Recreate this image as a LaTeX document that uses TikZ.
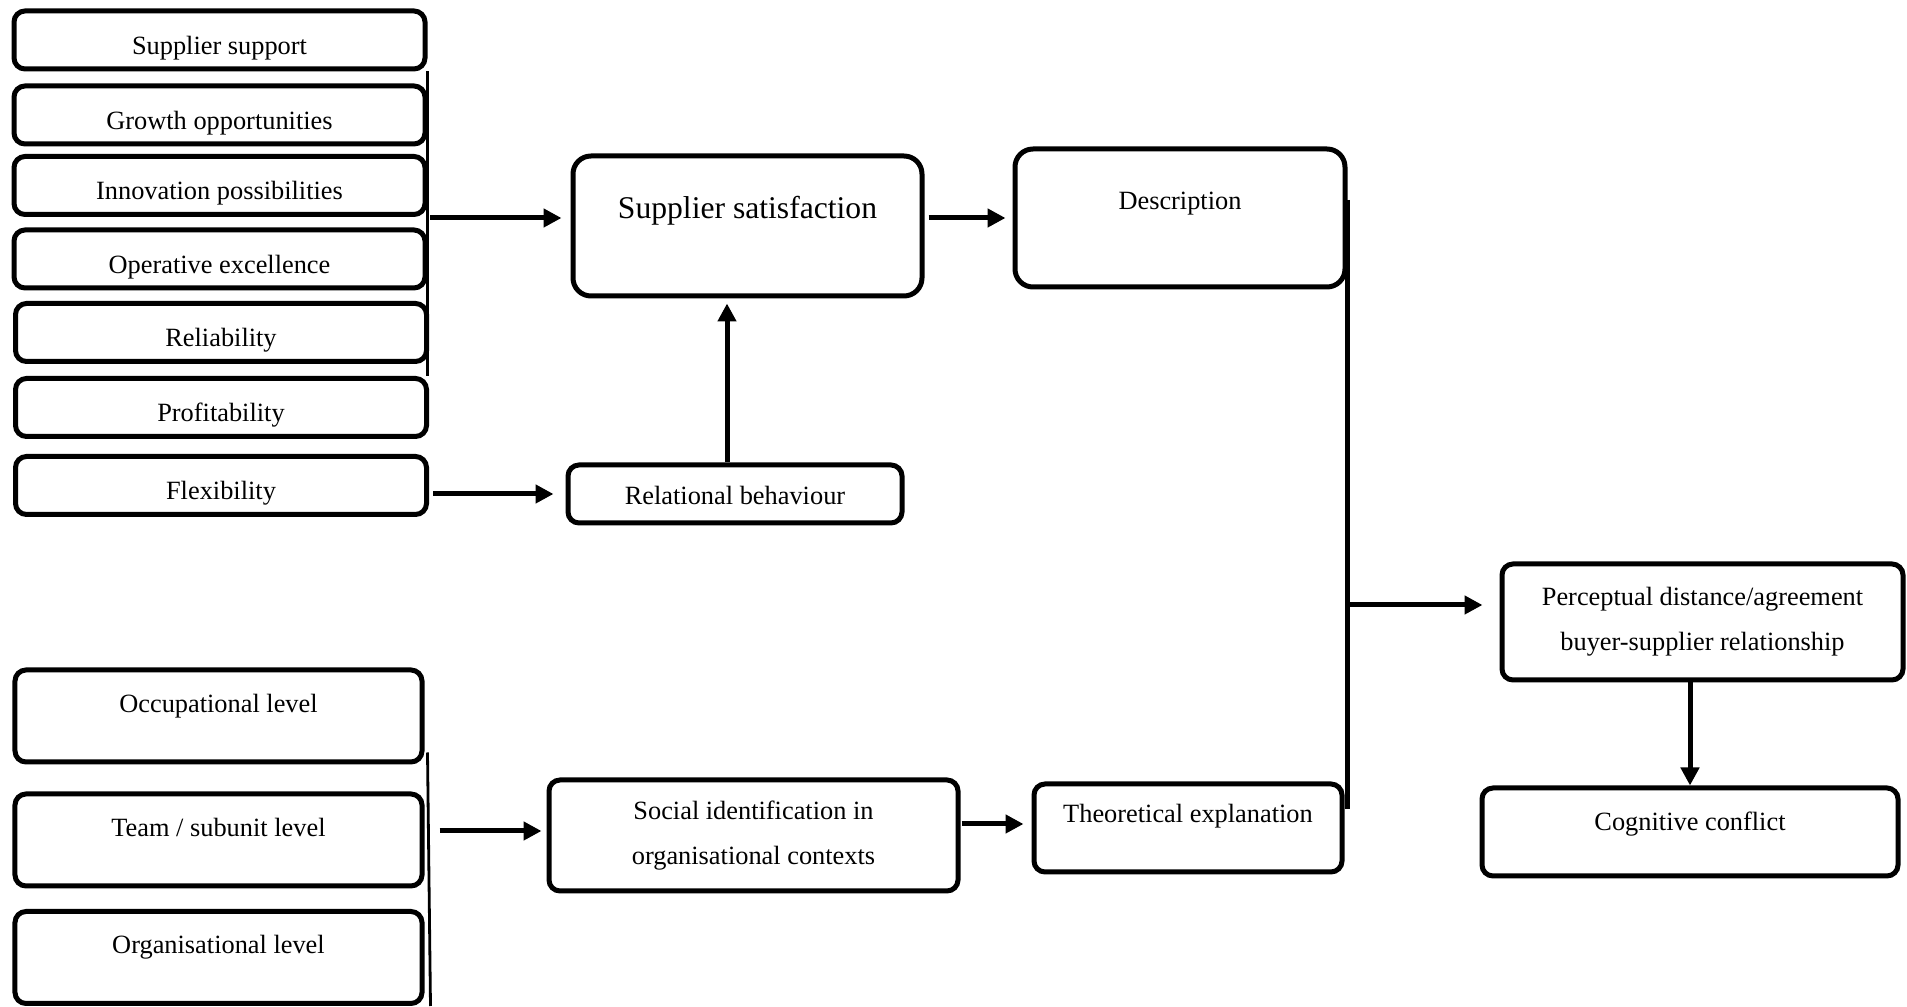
\documentclass[tikz,border=0pt]{standalone}
\usepackage{fontspec}
\setmainfont{Liberation Serif}
\usetikzlibrary{arrows.meta}

\begin{document}
\begin{tikzpicture}[every node/.style={font=\fontsize{7.5}{12.8}\selectfont,align=center,inner sep=.7mm},
    box/.style={draw,line width=.5mm,rounded corners=1.1mm},
    factor/.style={box,minimum width=4.11cm,minimum height=.58cm,text height=3.5mm,text depth=.6mm},
    tier/.style={box,minimum width=4.07cm,minimum height=.92cm,text height=2.4mm,text depth=3.1mm},
    arr/.style={line width=.5mm,-{Triangle[length=1.8mm,width=1.8mm]}},
    link/.style={line width=.5mm},
    bracket/.style={line width=.28mm}]
          \useasboundingbox (0,0) rectangle (19.07,10.07);
          % satisfaction factors
          \node [factor] (sup) at (2.195,9.67) {Supplier support};
          \node [factor] (gro) at (2.195,8.92) {Growth opportunities};
          \node [factor] (inn) at (2.195,8.215) {Innovation possibilities};
          \node [factor] (ope) at (2.195,7.48) {Operative excellence};
          \node [factor] (rlb) at (2.21,6.745) {Reliability};
          \node [factor] (pro) at (2.21,5.995) {Profitability};
          \node [factor] (fle) at (2.21,5.215) {Flexibility};
          \node [box,minimum width=3.49cm,minimum height=1.40cm,rounded corners=1.8mm,font=\fontsize{9}{11}\selectfont,text height=2.9mm,text depth=4.3mm] (supsat) at (7.475,7.81) {Supplier satisfaction};
          \node [box,minimum width=3.34cm,minimum height=.58cm,text height=3mm,text depth=.9mm] (relbeh) at (7.35,5.13) {Relational behaviour};
          \node [box,minimum width=3.30cm,minimum height=1.38cm,rounded corners=1.8mm,text height=2.4mm,text depth=4.1mm] (desc) at (11.80,7.89) {Description};
          % identification levels
          \node [tier] (occ) at (2.185,2.91) {Occupational level};
          \node [tier] (tea) at (2.185,1.67) {Team / subunit level};
          \node [tier] (org) at (2.185,.495) {Organisational level};
          \node [box,minimum width=4.09cm,minimum height=1.11cm] (social) at (7.535,1.715) {Social identification in\\organisational contexts};
          \node [box,minimum width=3.08cm,minimum height=.88cm,text height=2.4mm,text depth=3.4mm] (theo) at (11.88,1.79) {Theoretical explanation};
          % outcome
          \node [box,minimum width=4.01cm,minimum height=1.16cm] (perc) at (17.025,3.85) {Perceptual distance/agreement\\buyer-supplier relationship};
          \node [box,minimum width=4.16cm,minimum height=.88cm,text height=2.4mm,text depth=2.6mm] (cog) at (16.90,1.75) {Cognitive conflict};
          % upper bracket
          \draw [bracket] (sup.south east) -- (sup.south east |- pro.north east);
          \coordinate (ujoin) at (4.30,7.89);
          \draw [arr,shorten >=.9mm] (ujoin) -- (ujoin -| supsat.west);
          \draw [arr,shorten <=.4mm,shorten >=1.2mm] (fle.east |- relbeh.west) -- (relbeh.west);
          \draw [arr,shorten >=.5mm] ([xshift=-.08cm]relbeh.north) -- ([xshift=-.08cm]relbeh.north |- supsat.south);
          \draw [arr,shorten <=.4mm,shorten >=.7mm] (supsat.east |- desc.west) -- (desc.west);
          % right bracket
          \draw [link] ([yshift=.18cm]desc.east) -- ([yshift=.19cm]desc.east |- theo.east);
          \coordinate (rjoin) at (13.47,4.02);
          \draw [arr,shorten >=1.7mm] (rjoin) -- (rjoin -| perc.west);
          \draw [arr] (cog.north |- perc.south) -- (cog.north);
          % lower bracket
          \draw [bracket] ([xshift=.03cm,yshift=.12cm]occ.south east) -- ([xshift=.06cm]org.south east);
          \draw [arr,shorten >=.5mm] ([xshift=.15cm,yshift=.045cm]tea.east |- social.west) -- ([yshift=.045cm]social.west);
          \draw [arr,shorten <=.1mm,shorten >=.8mm] ([yshift=.04cm]social.east |- theo.west) -- ([yshift=.04cm]theo.west);
        \end{tikzpicture}
\end{document}
